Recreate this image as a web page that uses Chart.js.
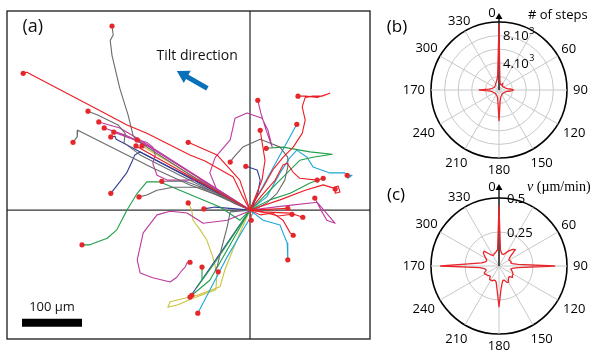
<!DOCTYPE html>
<html>
<head>
<meta charset="utf-8">
<script src="https://cdn.jsdelivr.net/npm/chart.js@4.4.1/dist/chart.umd.min.js"></script>
<style>
  body { margin: 0; background: #fff; }
  #wrap { position: relative; width: 596px; height: 352px; }
  canvas { position: absolute; }
</style>
</head>
<body>
<div id="wrap">
  <canvas id="tracks" width="380" height="352" style="left:0;top:0"></canvas>
  <canvas id="steps" width="211" height="180" style="left:385px;top:0"></canvas>
  <canvas id="speed" width="211" height="176" style="left:385px;top:176px"></canvas>
</div>
<script>
// ---- panel (a): cell trajectories, µm, origin = start point, flat x,y lists
const xLimits = [-405, 200];
const yLimits = [-215, 332];

const redTracks = [
  [0,0, -12,22, -28,55, -75,82, -100,92, -172,128, -205,142, -245,163, -372,230, -378,228],
  [0,0, -190,107],
  [0,0, -17,50, -55,92, -103,113],
  [0,0, 5,12, 22,38, 38,67, 55,88, 72,105, 87,128, 92,150, 87,172, 92,188, 105,190, 120,190, 133,195, 113,188, 92,190, 80,190],
  [0,0, 20,25, 42,50, 55,75, 62,78, 72,63, 83,53, 112,50],
  [0,0, 50,17, 92,33, 122,42, 138,37, 147,40, 150,30, 142,28, 142,35],
  [0,0, 45,2, 63,3],
  [0,0, 28,-5, 47,-10, 70,-7],
  [0,0, 22,-3, 67,-5, 88,-12],
  [0,0, 17,-8, 38,-5, 55,-17, 67,-38, 72,-42],
  [0,0, 2,-17],
  [0,0, 20,50, 25,83, 17,133]
];
const grayTracks = [
  [0,0, -83,48, -190,117, -195,125, -203,158, -217,203, -230,258, -233,283, -228,292, -230,307],
  [0,0, -50,25, -117,58, -183,92, -210,112, -208,128, -220,142, -253,158, -270,165],
  [0,0, -33,17, -100,42, -162,70, -287,133, -288,122, -295,113],
  [0,0, -38,17, -83,38, -128,38, -155,33, -172,25, -185,22],
  [0,0, -67,33, -108,48, -147,48],
  [0,0, 12,3, 28,12, 45,28, 58,50, 63,72, 63,88, 50,105, 33,112, 17,118, -12,105, -28,87, -33,80],
  [0,0, -33,-3, -38,-28, -47,-62, -55,-95, -58,-100, -53,-103]
];
const magentaTracks = [
  [0,0, -167,105, -200,120, -227,130],
  [0,0, -175,110, -208,125, -243,137],
  [0,0, -183,117, -217,137, -252,147],
  [0,0, -83,50, -138,50, -155,58, -162,78, -158,92, -162,105, -172,113, -188,117],
  [0,0, -28,12, -55,33, -67,62, -58,88, -33,117, -25,153, -5,162, 20,153, 30,133, 37,105, 27,133, 18,162, 13,183],
  [0,0, 58,7, 112,13, 142,-22, 128,-17, 120,-3, 108,20],
  [0,0, 3,0, -38,-17, -78,-22, -105,-5, -133,-2, -155,-8, -178,-38, -188,-83, -183,-105, -162,-113, -133,-120, -122,-112, -113,-100, -108,-95, -105,-88, -100,-87]
];
const greenTracks = [
  [0,0, -17,-17, -50,5, -105,28, -150,47, -172,47, -188,28, -205,0, -222,-33, -238,-47, -267,-58, -280,-58],
  [0,0, 13,12, 38,38, 67,67, 83,83, 105,88, 137,93, 100,97, 55,105, 27,103],
  [0,0, 33,17, 67,28, 100,45, 122,53],
  [0,0, -58,-87, -88,-128, -80,-117, -80,-95],
  [0,0, -67,-117, -97,-142]
];
const blueTracks = [
  [0,0, -223,118, -225,123, -232,122],
  [0,0, -92,50, -183,97, -192,92, -197,80, -205,63, -217,47, -232,28],
  [0,0, -100,-145],
  [0,0, -58,5, -77,2],
  [0,0, 3,3, 13,28, 17,50, 12,67, -7,73]
];
const cyanTracks = [
  [0,0, 78,143],
  [0,0, 28,22, 50,62, 67,88, 78,100, 95,88, 105,72, 133,62, 158,62, 163,53, 170,58, 162,58],
  [0,0, 22,-17, 50,-25, 55,-38, 62,-55, 63,-83],
  [0,0, 5,-5, -38,-78, -87,-172]
];
const yellowTracks = [
  [0,0, -22,-50, -42,-100, -50,-128, -88,-142, -133,-153, -137,-162, -120,-158, -95,-147, -57,-133, -55,-105, -62,-78, -72,-50, -83,-33, -95,-17, -97,0, -103,12],
  [0,0, -180,107]
];
const scaleBar = [-380, -280, -188];   // 100 µm bar: x from, x to, y

// ---- panels (b), (c): polar histograms, 5° bins
const angles = [0,5,10,15,20,25,30,35,40,45,50,55,60,65,70,75,80,85,90,95,100,105,110,115,
  120,125,130,135,140,145,150,155,160,165,170,175,180,185,190,195,200,205,210,215,220,225,230,235,
  240,245,250,255,260,265,270,275,280,285,290,295,300,305,310,315,320,325,330,335,340,345,350,355];
const stepCounts = [9600,1500,1000,850,800,850,1100,900,800,750,750,800,850,900,950,1050,1250,1700,
  2150,1700,1200,1000,900,850,800,780,760,750,760,780,820,880,950,1050,1250,1800,
  4500,1800,1200,1000,900,850,800,780,760,750,760,780,820,860,920,1000,1150,1500,
  2900,1500,1150,1000,920,860,820,800,800,820,850,900,1000,1100,1200,1350,1600,2200];
const speeds = [0.44,0.12,0.10,0.09,0.09,0.10,0.12,0.14,0.16,0.17,0.11,0.09,0.085,0.09,0.095,0.09,0.10,0.14,
  0.41,0.14,0.10,0.09,0.10,0.11,0.12,0.12,0.13,0.11,0.11,0.12,0.14,0.13,0.11,0.11,0.13,0.17,
  0.30,0.17,0.12,0.11,0.11,0.12,0.12,0.12,0.10,0.10,0.11,0.11,0.12,0.12,0.10,0.10,0.11,0.14,
  0.43,0.20,0.13,0.11,0.10,0.10,0.11,0.13,0.15,0.155,0.12,0.10,0.09,0.09,0.10,0.10,0.11,0.12];
const angleTicks = [0,30,60,90,120,150,180,210,240,270,300,330];
const angleTickText = ['0','','60','90','120','150','180','210','240','170','300','330'];
const stepTicks = [4000, 8000];
const stepTickText = ['4.10', '8.10'];
const speedTicks = [0.25, 0.5];
const speedTickText = ['0.25', '0.5'];

Chart.defaults.font.family = '"Open Sans"';

function toPoints(flat) {
  const out = [];
  for (let i = 0; i < flat.length; i += 2) out.push({x: flat[i], y: flat[i + 1]});
  return out;
}

const groups = [
  [redTracks, '#EC1C24'], [grayTracks, '#6A6B6E'], [magentaTracks, '#BC3A9C'],
  [greenTracks, '#1F9F4A'], [blueTracks, '#2F3C97'], [cyanTracks, '#1DA6DA'], [yellowTracks, '#CDC23B']
];
const trackSets = [];
const endPoints = [];
groups.forEach(([list, color]) => {
  list.forEach(t => {
    const pts = toPoints(t);
    endPoints.push(pts[pts.length - 1]);
    trackSets.push({data: pts, showLine: true, borderColor: color, borderWidth: 1.1,
      borderJoinStyle: 'round', pointRadius: 0, order: 1});
  });
});

const trackDecor = {
  id: 'trackDecor',
  afterDraw(chart) {
    const {ctx, chartArea: a, scales: {x, y}} = chart;
    ctx.save();
    ctx.strokeStyle = '#1a1a1a';
    ctx.lineWidth = 1.3;
    ctx.strokeRect(a.left, a.top, a.right - a.left, a.bottom - a.top);

    // tilt arrow
    const tx = x.getPixelForValue(-71), ty = y.getPixelForValue(203);
    const hx = x.getPixelForValue(-122), hy = y.getPixelForValue(232);
    const len = Math.hypot(hx - tx, hy - ty), ux = (hx - tx) / len, uy = (hy - ty) / len;
    const bx = hx - ux * 12, by = hy - uy * 12;
    ctx.strokeStyle = ctx.fillStyle = '#0A71B8';
    ctx.lineWidth = 5;
    ctx.beginPath(); ctx.moveTo(tx, ty); ctx.lineTo(bx + ux, by + uy); ctx.stroke();
    ctx.beginPath();
    ctx.moveTo(hx, hy);
    ctx.lineTo(bx - uy * 7, by + ux * 7);
    ctx.lineTo(bx + uy * 7, by - ux * 7);
    ctx.closePath(); ctx.fill();

    ctx.fillStyle = '#111';
    ctx.textAlign = 'center';
    ctx.textBaseline = 'middle';
    ctx.font = '14px "Open Sans"';
    ctx.fillText('Tilt direction', x.getPixelForValue(-88), y.getPixelForValue(257));
    ctx.font = '13px "Open Sans"';
    ctx.fillText('100 µm', x.getPixelForValue((scaleBar[0] + scaleBar[1]) / 2), y.getPixelForValue(scaleBar[2]) - 16);
    ctx.font = '18px "Open Sans"';
    ctx.fillText('(a)', x.getPixelForValue(-362), y.getPixelForValue(305));
    ctx.restore();
  }
};

new Chart(document.getElementById('tracks'), {
  type: 'scatter',
  data: {
    datasets: [
      {data: endPoints, pointRadius: 2.6, pointBackgroundColor: '#E5262B', pointBorderWidth: 0, order: 0},
      ...trackSets,
      {data: [{x: 0, y: yLimits[0]}, {x: 0, y: yLimits[1]}], showLine: true, borderColor: '#333',
        borderWidth: 1.3, pointRadius: 0, order: 2},
      {data: [{x: xLimits[0], y: 0}, {x: xLimits[1], y: 0}], showLine: true, borderColor: '#333',
        borderWidth: 1.3, pointRadius: 0, order: 2},
      {data: [{x: scaleBar[0], y: scaleBar[2]}, {x: scaleBar[1], y: scaleBar[2]}], showLine: true,
        borderColor: '#000', borderWidth: 8, borderCapStyle: 'butt', pointRadius: 0, order: 2}
    ]
  },
  options: {
    responsive: false,
    animation: false,
    layout: {padding: {left: 7, top: 11, right: 10, bottom: 13}},
    plugins: {legend: {display: false}, tooltip: {enabled: false}},
    scales: {
      x: {type: 'linear', min: xLimits[0], max: xLimits[1], display: false},
      y: {type: 'linear', min: yLimits[0], max: yLimits[1], display: false}
    }
  },
  plugins: [trackDecor]
});

// ---- polar panels
function polarDecor(o) {
  return {
    id: 'polarDecor',
    // the black 0° arrow sits under the red curve
    beforeDatasetsDraw(chart) {
      const r = chart.scales.r, c = chart.ctx;
      const cx = r.xCenter, cy = r.yCenter, R = r.drawingArea;
      c.save();
      c.strokeStyle = c.fillStyle = '#000';
      c.lineWidth = 1.3;
      const tip = cy - R - o.arrowUp;
      c.beginPath(); c.moveTo(cx, cy); c.lineTo(cx, tip + 4); c.stroke();
      c.beginPath(); c.moveTo(cx, tip); c.lineTo(cx - 3.5, tip + 6); c.lineTo(cx + 3.5, tip + 6);
      c.closePath(); c.fill();
      c.restore();
    },
    afterDraw(chart) {
      const r = chart.scales.r, c = chart.ctx;
      const cx = r.xCenter, cy = r.yCenter, R = r.drawingArea;
      c.save();
      c.fillStyle = '#000';
      c.font = '13px "Open Sans"';
      c.textBaseline = 'middle';
      c.textAlign = 'center';
      angleTicks.forEach((deg, k) => {
        const txt = angleTickText[k];
        if (!txt) return;
        if (deg === 0) { c.fillText(txt, cx - 7, cy - R - o.zeroUp); return; }
        const th = deg * Math.PI / 180;
        const w = c.measureText(txt).width;
        const d = R + 6 + Math.abs(Math.sin(th)) * w / 2 + (Math.cos(th) < 0 ? -Math.cos(th) * 6.5 : 0);
        const p = r.getPointPosition(angles.indexOf(deg), d);
        c.fillText(txt, p.x, p.y);
      });

      c.textAlign = 'left';
      o.ticks.forEach((v, k) => {
        const yy = cy - r.getDistanceFromCenterForValue(v) + 1;
        c.font = '13px "Open Sans"';
        c.fillText(o.tickText[k], cx + o.tickDx, yy);
        if (o.sup) {
          const w = c.measureText(o.tickText[k]).width;
          c.font = '9px "Open Sans"';
          c.fillText(o.sup, cx + o.tickDx + w + 0.5, yy - 5);
        }
      });

      let tx = cx + o.titleDx;
      o.title.forEach(part => {
        c.font = part.f;
        c.fillText(part.t, tx, cy - R - o.titleUp);
        tx += c.measureText(part.t).width;
      });

      c.textAlign = 'center';
      c.font = '17px "Open Sans"';
      c.fillText(o.letter, cx + o.letterDx, cy + o.letterDy);
      c.restore();
    }
  };
}

function polarChart(id, values, max, step, pad, decor) {
  return new Chart(document.getElementById(id), {
    type: 'radar',
    data: {
      labels: angles,
      datasets: [{data: values, borderColor: '#E8262B', borderWidth: 1.3, borderJoinStyle: 'round',
        pointRadius: 0, fill: false, tension: 0}]
    },
    options: {
      responsive: false,
      animation: false,
      layout: {padding: pad},
      plugins: {legend: {display: false}, tooltip: {enabled: false}},
      scales: {
        r: {
          min: 0, max: max,
          ticks: {display: false, stepSize: step},
          pointLabels: {display: false},
          grid: {
            circular: true,
            color: ctx => ctx.tick && ctx.tick.value === max ? '#000' : '#c8c8c8',
            lineWidth: ctx => ctx.tick && ctx.tick.value === max ? 1.6 : 1
          },
          angleLines: {color: '#c8c8c8', lineWidth: ctx => ctx.index % 6 === 0 ? 1 : 0}
        }
      }
    },
    plugins: [polarDecor(decor)]
  });
}

polarChart('steps', stepCounts, 10000, 2000, {left: 46, right: 29, top: 22, bottom: 22}, {
  letter: '(b)', letterDx: -102, letterDy: -63, arrowUp: 9, zeroUp: 9,
  title: [{t: '# of steps', f: '13px "Open Sans"'}], titleDx: 29, titleUp: 7,
  ticks: stepTicks, tickText: stepTickText, tickDx: 4, sup: '3'
});

polarChart('speed', speeds, 0.5, 0.25, {left: 46, right: 29, top: 22, bottom: 18}, {
  letter: '(c)', letterDx: -103, letterDy: -71, arrowUp: 14, zeroUp: 11,
  title: [{t: 'ν', f: 'italic 14px "Liberation Serif"'}, {t: ' (µm/min)', f: '14px "Liberation Serif"'}],
  titleDx: 28, titleUp: 11,
  ticks: speedTicks, tickText: speedTickText, tickDx: 8, sup: ''
});
</script>
</body>
</html>
